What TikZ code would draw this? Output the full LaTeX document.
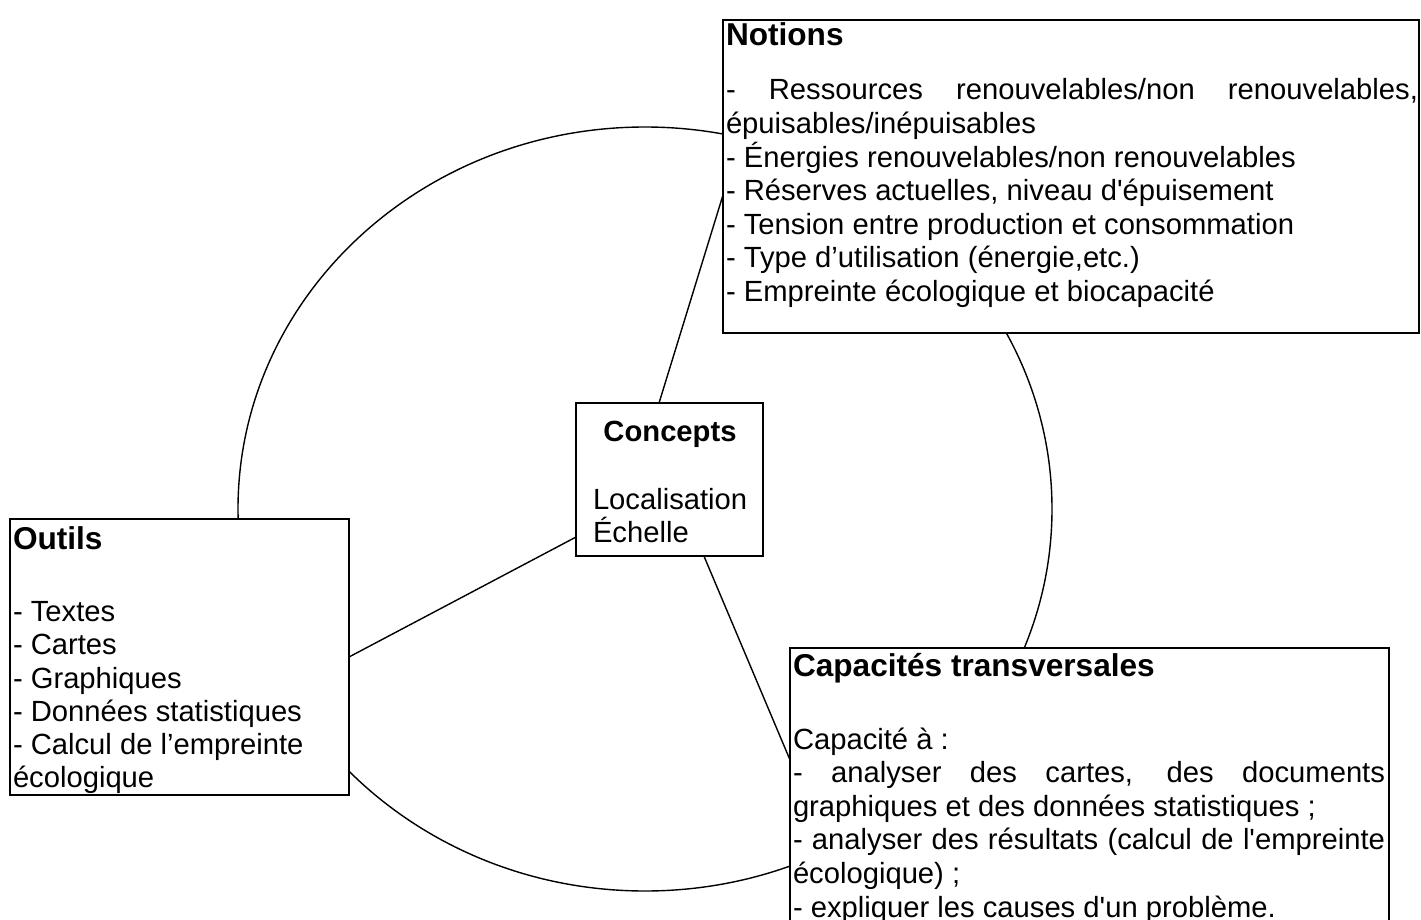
\documentclass[tikz,border=0pt]{standalone}
\usepackage{fontspec}
\newfontfamily\arial{Liberation Sans}
\usetikzlibrary{calc}

% body and heading sizes (picture units are 1pt per pixel)
\newcommand\bodysize{\fontsize{29.2pt}{33.6pt}\selectfont}
\newcommand\headsize{\fontsize{31.6pt}{36pt}\selectfont\bfseries}

\begin{document}
\begin{tikzpicture}[x=1pt,y=-1pt,
  box/.style={draw, line width=1.8pt, fill=white, inner sep=0pt, outer sep=0pt, anchor=north west},
  link/.style={line width=1.4pt},
  txt/.style={anchor=base west, inner sep=0pt, outer sep=0pt, font=\arial}]
\useasboundingbox (0,0) rectangle (1421,920);
\clip (0,0) rectangle (1421,920);
\fill[white] (0,0) rectangle (1421,920);

% the cycle linking the three outer boxes
\draw[link] (645,509) ellipse [x radius=407pt, y radius=382pt];

% boxes
\node[box, minimum width=696pt, minimum height=313pt] (notions) at (723,20) {};
\node[box, minimum width=339pt, minimum height=276pt] (outils) at (10,519) {};
\node[box, minimum width=187pt, minimum height=153pt] (concepts) at (576,403) {};
\node[box, minimum width=599pt, minimum height=300pt] (capacites) at (790,648) {};

% links from the central box
\draw[link] ($(concepts.north west)!0.444!(concepts.north east)$) -- ($(notions.north west)!0.559!(notions.south west)$);
\draw[link] (outils.east) -- ($(concepts.north west)!0.876!(concepts.south west)$);
\draw[link] ($(concepts.south west)!0.684!(concepts.south east)$) -- ($(capacites.north west)!0.373!(capacites.south west)$);

% texts
\node[txt] (notionstext) at (726,46) {\begin{minipage}[t]{692pt}\bodysize
{\headsize Notions\par}
\vspace{20.4pt}
\makebox[\linewidth][s]{- Ressources renouvelables/non renouvelables,}\par
épuisables/inépuisables\par
- Énergies renouvelables/non renouvelables\par
- Réserves actuelles, niveau d'épuisement\par
- Tension entre production et consommation\par
- Type d’utilisation (énergie,etc.)\par
- Empreinte écologique et biocapacité
\end{minipage}};

\node[txt] (conceptstext) at (593,441.7) {\begin{minipage}[t]{154pt}\bodysize
{\centering\bfseries Concepts\par}
\vspace{33.7pt}
Localisation\par
Échelle
\end{minipage}};

\node[txt] (outilstext) at (13,549) {\begin{minipage}[t]{334pt}\fontsize{29.2pt}{33.2pt}\selectfont
{\headsize Outils\par}
\vspace{39.5pt}
- Textes\par
- Cartes\par
- Graphiques\par
- Données statistiques\par
- Calcul de l’empreinte\par
écologique
\end{minipage}};

\node[txt] (capacitestext) at (793,676) {\begin{minipage}[t]{592pt}\bodysize
{\headsize Capacités transversales\par}
\vspace{39.4pt}
Capacité à :\par
\makebox[\linewidth][s]{- analyser des cartes, des documents}\par
graphiques et des données statistiques ;\par
\makebox[\linewidth][s]{- analyser des résultats (calcul de l'empreinte}\par
écologique) ;\par
- expliquer les causes d'un problème.
\end{minipage}};
\end{tikzpicture}
\end{document}
